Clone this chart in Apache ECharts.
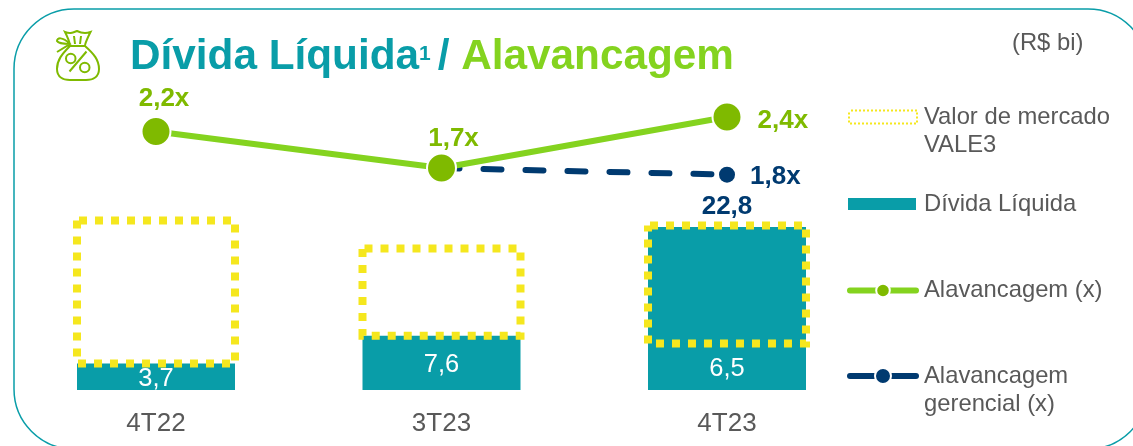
<!DOCTYPE html>
<html>
<head>
<meta charset="utf-8">
<style>html,body{margin:0;padding:0;background:#fff}#c{width:1133px;height:446px}</style>
<script src="https://cdn.jsdelivr.net/npm/echarts@6/dist/echarts.min.js"></script>
</head>
<body>
<div id="c"></div>
<script>
const categories = ['4T22', '3T23', '4T23'];
const dividaLiquida = [3.7, 7.6, 6.5];
const dividaTopo = [null, null, 22.8];
const valorMercado = [20.0, 12.2, 16.5];
const alavancagem = [2.2, 1.7, 2.4];
const alavancagemLabels = ['2,2x', '1,7x', '2,4x'];
const gerencial = [null, 1.7, 1.61];
const gerencialLabels = ['', '', '1,8x'];
const fmt = v => String(v).replace('.', ',');

const TEAL = '#099DA8', GREEN = '#84D31F', DOT = '#7FBA00', NAVY = '#003A70', GREY = '#595959', YELLOW = '#F5E71E';
const FONT = '"Liberation Sans", Arial, sans-serif';
const N_MERCADO = 'Valor de mercado VALE3', N_DIVIDA = 'Dívida Líquida', N_ALAV = 'Alavancagem (x)', N_GER = 'Alavancagem gerencial (x)';
const legendText = { fontFamily: FONT, fontSize: 23.8, color: GREY, lineHeight: 28 };
const BAR_W = 158;

echarts.graphic.registerShape('moneybag', echarts.graphic.extendPath(
  'M70 46C62 54 57 60 57 69C57 77 63 80 70 80L86 80C93 80 99 77 99 69C99 60 94 54 85 46Z' +
  'M70 45C69 40 67 36 65 32C70 34 72 33 77 31C81 33 85 34 90.5 32C88 37 86 41 85 45' +
  'M74 36L75 44M81 36L80 44' +
  'M70 44C65 44 58 43 57 41C57 38 62 36 70 44L57 52' +
  'M75.5 58.5A4.7 4.7 0 1 1 66 58.5A4.7 4.7 0 1 1 75.5 58.5Z' +
  'M89.5 67.5A4.7 4.7 0 1 1 80 67.5A4.7 4.7 0 1 1 89.5 67.5Z' +
  'M69.5 71.5L86.5 51.5', {}));

const greenLabel = [
  { position: 'top', distance: 4, offset: [8, 0] },
  { position: 'top', distance: 1, offset: [12, 0] },
  { position: 'right', distance: 15, offset: [0, 4] }
];

const option = {
  animation: false,
  title: {
    left: 130, top: 30, padding: 0,
    text: '{a|Dívida Líquida}{b|1}{s|/ }{c|Alavancagem}',
    textStyle: {
      fontFamily: FONT,
      rich: {
        a: { fontFamily: FONT, fontSize: 42.3, fontWeight: 'bold', color: TEAL, lineHeight: 54 },
        b: { fontFamily: FONT, fontSize: 21, fontWeight: 'bold', color: TEAL, padding: [0, 0, 6, 0] },
        s: { fontFamily: FONT, fontSize: 42.3, fontWeight: 'bold', color: TEAL, padding: [0, 0, 0, 7] },
        c: { fontFamily: FONT, fontSize: 42.3, fontWeight: 'bold', color: GREEN }
      }
    }
  },
  legend: [
    { data: [N_MERCADO], left: 848, top: 75, padding: 0, icon: 'rect', itemWidth: 68, itemHeight: 13, selectedMode: false,
      itemStyle: { color: 'rgba(0,0,0,0)', borderColor: YELLOW, borderWidth: 2, borderType: [2, 2] },
      formatter: () => '\nValor de mercado\nVALE3',
      textStyle: Object.assign({}, legendText, { padding: [0, 0, 0, 2] }) },
    { data: [N_DIVIDA], left: 848, top: 190, padding: 0, icon: 'rect', itemWidth: 68, itemHeight: 12, selectedMode: false,
      itemStyle: { color: TEAL, borderWidth: 0 },
      textStyle: Object.assign({}, legendText, { padding: [0, 0, 0, 3] }) },
    { data: [N_ALAV], left: 847, top: 276, padding: 0, itemWidth: 66, itemHeight: 17, selectedMode: false,
      lineStyle: { color: GREEN, width: 6, cap: 'round' },
      itemStyle: { color: DOT, borderColor: '#fff', borderWidth: 2 },
      textStyle: Object.assign({}, legendText, { padding: [1, 0, 0, 3] }) },
    { data: [N_GER], left: 847, top: 334, padding: 0, itemWidth: 66, itemHeight: 20, selectedMode: false,
      lineStyle: { color: NAVY, width: 6, type: 'solid', cap: 'round' },
      itemStyle: { color: NAVY, borderColor: '#fff', borderWidth: 2 },
      formatter: () => '\nAlavancagem\ngerencial (x)',
      textStyle: Object.assign({}, legendText, { padding: [0, 0, 0, 3] }) }
  ],
  graphic: { elements: [
    { type: 'rect', silent: true, z: -10, shape: { x: 14, y: 9, width: 1134, height: 440, r: 60 },
      style: { fill: 'none', stroke: TEAL, lineWidth: 1.5 } },
    { type: 'moneybag', silent: true,
      style: { fill: 'none', stroke: DOT, lineWidth: 2 } },
    { type: 'text', silent: true, left: 1012, top: 31,
      style: { text: '(R$ bi)', fontFamily: FONT, fontSize: 23.8, fill: GREY } }
  ] },
  grid: { left: 13.25, width: 856.5, top: 32.5, height: 357.5 },
  xAxis: {
    type: 'category', data: categories,
    axisLine: { show: false }, axisTick: { show: false },
    axisLabel: { fontFamily: FONT, fontSize: 26, color: GREY, margin: 21 }
  },
  yAxis: [
    { type: 'value', min: 0, max: 50, show: false },
    { type: 'value', min: -1.34, max: 3.557, show: false }
  ],
  series: [
    { name: 'Dívida Líquida gerencial', type: 'bar', data: dividaTopo, barWidth: BAR_W, barGap: '-100%', z: 1,
      itemStyle: { color: TEAL },
      label: { show: true, position: 'top', distance: 7, fontFamily: FONT, fontSize: 26, fontWeight: 'bold', color: NAVY, formatter: p => fmt(p.value) } },
    { name: N_DIVIDA, type: 'bar', data: dividaLiquida, barWidth: BAR_W, z: 2,
      itemStyle: { color: TEAL },
      label: { show: true, position: 'inside', offset: [0, 2], fontFamily: FONT, fontSize: 25.5, color: '#fff', formatter: p => fmt(p.value) } },
    { name: N_MERCADO, type: 'custom', z: 3, silent: true,
      data: categories.map((c, i) => [i, dividaLiquida[i], valorMercado[i]]),
      encode: { x: 0, y: [1, 2] },
      itemStyle: { color: 'rgba(0,0,0,0)', borderColor: YELLOW, borderWidth: 8 },
      renderItem: (params, api) => {
        const base = api.value(1);
        const bottom = api.coord([api.value(0), base]);
        const top = api.coord([api.value(0), base + api.value(2)]);
        return {
          type: 'rect',
          shape: { x: bottom[0] - BAR_W / 2, y: top[1], width: BAR_W, height: bottom[1] - top[1] },
          style: { fill: 'none', stroke: YELLOW, lineWidth: 8, lineDash: [8, 8], lineDashOffset: -2 }
        };
      } },
    { name: N_GER, type: 'line', yAxisIndex: 1, z: 4,
      data: gerencial.map((v, i) => ({
        value: v,
        symbolSize: i === 2 ? 16 : 0,
        label: { show: gerencialLabels[i] !== '', position: 'right', distance: 15, offset: [0, 2], formatter: () => gerencialLabels[i] }
      })),
      connectNulls: false, symbol: 'circle', showAllSymbol: true,
      lineStyle: { color: NAVY, width: 6, type: [18, 24], cap: 'round' },
      itemStyle: { color: NAVY },
      label: { fontFamily: FONT, fontSize: 26, fontWeight: 'bold', color: NAVY } },
    { name: N_ALAV, type: 'line', yAxisIndex: 1, z: 5,
      data: alavancagem.map((v, i) => ({
        value: v,
        label: Object.assign({ show: true, formatter: () => alavancagemLabels[i] }, greenLabel[i])
      })),
      symbol: 'circle', symbolSize: 29, showAllSymbol: true,
      lineStyle: { color: GREEN, width: 6 },
      itemStyle: { color: DOT, borderColor: '#fff', borderWidth: 2 },
      label: { fontFamily: FONT, fontSize: 26, fontWeight: 'bold', color: DOT } }
  ]
};
const chart = echarts.init(document.getElementById('c'), null, { renderer: 'canvas' });
chart.setOption(option);
</script>
</body>
</html>
